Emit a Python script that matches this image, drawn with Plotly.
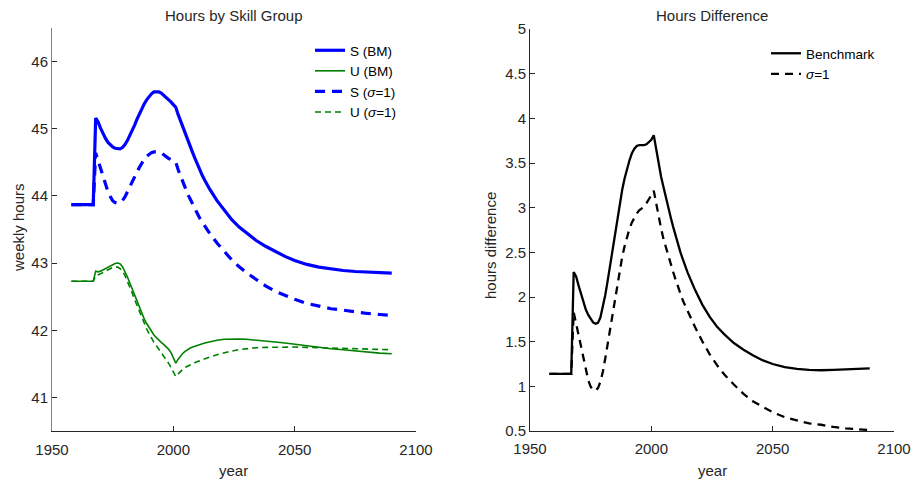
import plotly.graph_objects as go

years = [1958, 1967,
         1968, 1969, 1970, 1971, 1972, 1973, 1974, 1975, 1976, 1977, 1978, 1979, 1980, 1981,
         1982, 1983, 1984, 1985, 1986, 1987, 1988, 1989, 1990, 1991, 1992, 1993, 1994, 1995,
         1996, 1997, 1998, 1999, 2000, 2001, 2002, 2003, 2004, 2005, 2006, 2007, 2008, 2009,
         2010, 2011, 2012, 2013, 2014, 2015,
         2018, 2021, 2024, 2027, 2030, 2034, 2038, 2042, 2046, 2050, 2055, 2060, 2065, 2070,
         2075, 2080, 2085, 2090]

s_bm = [43.87, 43.87,
        45.16, 45.10, 45.01, 44.93, 44.86, 44.80, 44.76, 44.73, 44.71, 44.70, 44.70, 44.72, 44.76, 44.82,
        44.89, 44.97, 45.05, 45.14, 45.22, 45.30, 45.37, 45.43, 45.48, 45.52, 45.55, 45.555, 45.55, 45.53,
        45.50, 45.47, 45.43, 45.40, 45.36, 45.32, 45.21, 45.11, 45.01, 44.92, 44.82, 44.73, 44.64, 44.55,
        44.46, 44.38, 44.30, 44.23, 44.16, 44.10,
        43.93, 43.78, 43.65, 43.54, 43.45, 43.34, 43.25, 43.17, 43.10, 43.04, 42.98, 42.94, 42.91, 42.89,
        42.875, 42.865, 42.855, 42.85]

u_bm = [42.73, 42.73,
        42.88, 42.87, 42.88, 42.90, 42.92, 42.94, 42.96, 42.98, 42.995, 43.00, 42.99, 42.95, 42.88, 42.80,
        42.71, 42.62, 42.52, 42.43, 42.34, 42.25, 42.17, 42.10, 42.04, 41.98, 41.93, 41.89, 41.85, 41.82,
        41.79, 41.76, 41.72, 41.67, 41.60, 41.51, 41.57, 41.62, 41.66, 41.69, 41.715, 41.735, 41.75, 41.765,
        41.78, 41.79, 41.80, 41.81, 41.82, 41.83,
        41.85, 41.865, 41.87, 41.87, 41.865, 41.855, 41.84, 41.825, 41.81, 41.79, 41.765, 41.745, 41.725, 41.71,
        41.69, 41.675, 41.66, 41.65]

s_s1 = [43.87, 43.87,
        44.64, 44.52, 44.40, 44.28, 44.17, 44.07, 43.99, 43.93, 43.90, 43.89, 43.90, 43.93, 43.98, 44.05,
        44.12, 44.20, 44.28, 44.36, 44.43, 44.50, 44.55, 44.59, 44.62, 44.645, 44.655, 44.66, 44.655, 44.64,
        44.61, 44.58, 44.56, 44.54, 44.52, 44.50, 44.39, 44.29, 44.19, 44.10, 44.02, 43.95, 43.87, 43.80,
        43.73, 43.66, 43.60, 43.54, 43.49, 43.44,
        43.30, 43.17, 43.05, 42.95, 42.86, 42.76, 42.66, 42.58, 42.52, 42.46, 42.40, 42.36, 42.32, 42.30,
        42.27, 42.25, 42.235, 42.22]

u_s1 = [42.73, 42.73,
        42.81, 42.82, 42.84, 42.86, 42.88, 42.90, 42.92, 42.935, 42.94, 42.94, 42.92, 42.88, 42.82, 42.74,
        42.65, 42.56, 42.46, 42.37, 42.28, 42.19, 42.10, 42.02, 41.95, 41.88, 41.82, 41.77, 41.72, 41.67,
        41.62, 41.57, 41.51, 41.45, 41.38, 41.31, 41.35, 41.39, 41.42, 41.45, 41.47, 41.49, 41.51, 41.52,
        41.535, 41.55, 41.565, 41.58, 41.59, 41.60,
        41.635, 41.665, 41.69, 41.71, 41.725, 41.74, 41.745, 41.75, 41.75, 41.75, 41.745, 41.74, 41.735, 41.73,
        41.725, 41.72, 41.715, 41.71]

diff_bm = [1.14, 1.14,
           2.28, 2.23, 2.13, 2.03, 1.94, 1.86, 1.80, 1.75, 1.715, 1.70, 1.71, 1.77, 1.88, 2.02,
           2.18, 2.35, 2.53, 2.71, 2.88, 3.05, 3.20, 3.33, 3.44, 3.53, 3.61, 3.66, 3.69, 3.70,
           3.70, 3.70, 3.71, 3.73, 3.76, 3.81, 3.64, 3.49, 3.35, 3.23, 3.105, 2.995, 2.89, 2.785,
           2.68, 2.59, 2.50, 2.42, 2.34, 2.27,
           2.08, 1.915, 1.78, 1.67, 1.585, 1.485, 1.41, 1.345, 1.29, 1.25, 1.215, 1.195, 1.185, 1.18,
           1.185, 1.19, 1.195, 1.20]

diff_s1 = [1.14, 1.14,
           1.83, 1.70, 1.56, 1.42, 1.29, 1.17, 1.07, 0.995, 0.96, 0.95, 0.98, 1.05, 1.16, 1.31,
           1.47, 1.64, 1.82, 1.99, 2.15, 2.31, 2.45, 2.57, 2.67, 2.765, 2.835, 2.89, 2.935, 2.97,
           2.99, 3.01, 3.05, 3.09, 3.14, 3.19, 3.04, 2.90, 2.77, 2.65, 2.55, 2.46, 2.36, 2.28,
           2.195, 2.11, 2.035, 1.96, 1.90, 1.84,
           1.665, 1.505, 1.36, 1.24, 1.135, 1.02, 0.915, 0.83, 0.77, 0.71, 0.655, 0.62, 0.585, 0.57,
           0.545, 0.53, 0.52, 0.51]

W, H = 913, 485
FONT = "Liberation Sans, Arial, Helvetica, sans-serif"
TXT = "#262626"

fig = go.Figure()
fig.add_trace(go.Scatter(x=years, y=s_bm, mode="lines", name="S (BM)",
                         line=dict(color="#0000FF", width=3.2), xaxis="x", yaxis="y", legend="legend"))
fig.add_trace(go.Scatter(x=years, y=u_bm, mode="lines", name="U (BM)",
                         line=dict(color="#008000", width=1.6), xaxis="x", yaxis="y", legend="legend"))
fig.add_trace(go.Scatter(x=years, y=s_s1, mode="lines", name="S (<i>σ</i>=1)",
                         line=dict(color="#0000FF", width=3.2, dash="10px,7px"), xaxis="x", yaxis="y", legend="legend"))
fig.add_trace(go.Scatter(x=years, y=u_s1, mode="lines", name="U (<i>σ</i>=1)",
                         line=dict(color="#008000", width=1.6, dash="6px,4px"), xaxis="x", yaxis="y", legend="legend"))
fig.add_trace(go.Scatter(x=years, y=diff_bm, mode="lines", name="Benchmark",
                         line=dict(color="#000000", width=2.3), xaxis="x2", yaxis="y2", legend="legend2"))
fig.add_trace(go.Scatter(x=years, y=diff_s1, mode="lines", name="<i>σ</i>=1",
                         line=dict(color="#000000", width=2.3, dash="8px,6px"), xaxis="x2", yaxis="y2", legend="legend2"))

def px_x(p):
    return p / W

def px_y(p):
    return 1 - p / H

axis_common = dict(showgrid=False, zeroline=False, ticks="inside", ticklen=5, tickwidth=1,
                   tickcolor=TXT, showline=True, linewidth=1, automargin=False,
                   tickfont=dict(family=FONT, size=15, color=TXT))

fig.update_layout(
    width=W, height=H, margin=dict(l=0, r=0, t=0, b=0, autoexpand=False),
    paper_bgcolor="white", plot_bgcolor="white",
    showlegend=True,
    xaxis=dict(domain=[px_x(52), px_x(416)], range=[1950, 2100], tickvals=[1950, 2000, 2050, 2100],
               linecolor=TXT, anchor="y", ticklabelstandoff=5, **axis_common),
    yaxis=dict(domain=[px_y(431), px_y(28)], range=[40.5, 46.5], tickvals=[41, 42, 43, 44, 45, 46],
               linecolor="#808080", anchor="x", **axis_common),
    xaxis2=dict(domain=[px_x(530), px_x(894)], range=[1950, 2100], tickvals=[1950, 2000, 2050, 2100],
                linecolor=TXT, anchor="y2", ticklabelstandoff=4, **axis_common),
    yaxis2=dict(domain=[px_y(431), px_y(29)], range=[0.5, 5],
                tickvals=[0.5, 1, 1.5, 2, 2.5, 3, 3.5, 4, 4.5, 5],
                ticktext=["0.5", "1", "1.5", "2", "2.5", "3", "3.5", "4", "4.5", "5"],
                linecolor=TXT, anchor="x2", **axis_common),
    legend=dict(x=px_x(310), y=px_y(35), xanchor="left", yanchor="top", bgcolor="rgba(0,0,0,0)",
                font=dict(family=FONT, size=13.5, color="#000000"), tracegroupgap=0, itemwidth=30),
    legend2=dict(x=px_x(766), y=px_y(38), xanchor="left", yanchor="top", bgcolor="rgba(0,0,0,0)",
                 font=dict(family=FONT, size=13.5, color="#000000"), tracegroupgap=0, itemwidth=30),
)

annotations = [
    dict(text="Hours by Skill Group", x=px_x(234), y=px_y(16)),
    dict(text="Hours Difference", x=px_x(712), y=px_y(16)),
    dict(text="year", x=px_x(234), y=px_y(470)),
    dict(text="year", x=px_x(712), y=px_y(470)),
    dict(text="weekly hours", x=px_x(18), y=px_y(228), textangle=-90),
    dict(text="hours difference", x=px_x(490), y=px_y(246), textangle=-90),
]
for a in annotations:
    fig.add_annotation(xref="paper", yref="paper", showarrow=False, xanchor="center", yanchor="middle",
                       font=dict(family=FONT, size=15, color=TXT), **a)

fig.write_html("out.html")
